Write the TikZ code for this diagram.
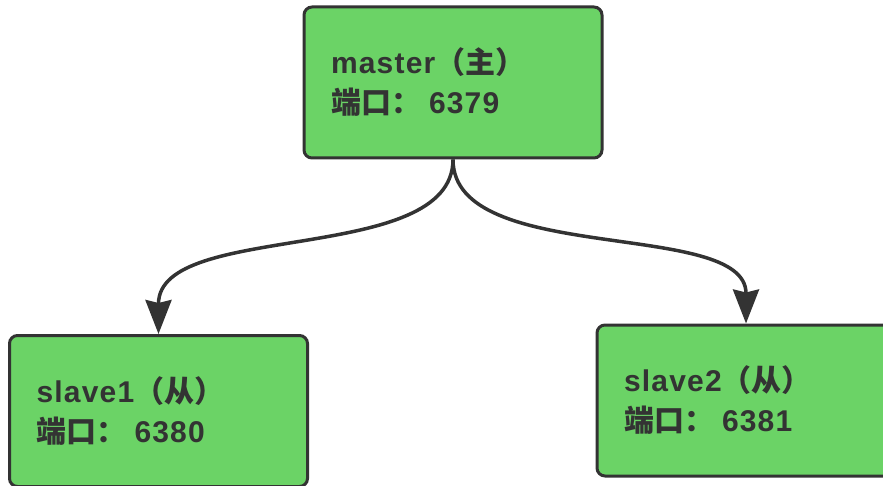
\documentclass[tikz,border=0pt]{standalone}
\usepackage{fontspec}
\setmainfont{Liberation Sans}[LetterSpace=4]
\newfontfamily\cjk{Noto Sans CJK SC}
\usetikzlibrary{arrows.meta}
\definecolor{boxgreen}{RGB}{107,211,102}
\definecolor{ink}{RGB}{51,51,51}
\begin{document}
\begin{tikzpicture}[x=1pt,y=-1pt,
  box/.style={draw=ink, line width=3pt, fill=boxgreen, rounded corners=8pt,
    minimum width=298pt, minimum height=151pt, text width=244pt, inner xsep=27pt,
    align=left, text=ink, font=\fontsize{30}{40}\selectfont\bfseries},
  link/.style={draw=ink, line width=3.5pt, -{Stealth[length=34pt,width=26pt,inset=3pt]}}]
\useasboundingbox (0,0) rectangle (883,486);
\node[box] (m) at (453,82.5) {master{\cjk（主）}\\{\cjk 端口：}\hspace{8pt}6379};
\node[box] (s1) at (158.5,411) {slave1{\cjk（从）}\\{\cjk 端口：}\hspace{8pt}6380};
\node[box] (s2) at (746,400.5) {slave2{\cjk（从）}\\{\cjk 端口：}\hspace{8pt}6381};
\draw[link] (m.south) .. controls +(0,107) and +(0,-114) .. (s1.north);
\draw[link] (m.south) .. controls +(0,107) and +(0,-105) .. (s2.north);
\end{tikzpicture}
\end{document}
